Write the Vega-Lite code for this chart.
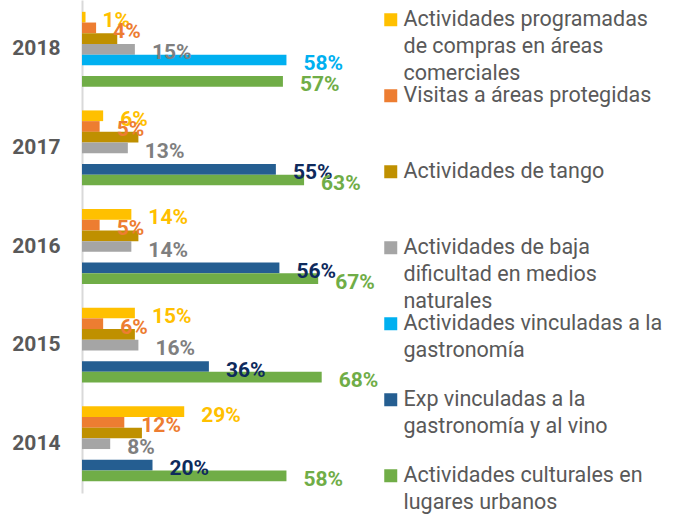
{
  "$schema": "https://vega.github.io/schema/vega-lite/v6.json",
  "width": 282,
  "height": 493,
  "autosize": "none",
  "padding": {"left": 82, "top": 0, "right": 312, "bottom": 22},
  "config": {
    "view": {"stroke": null},
    "font": "Roboto",
    "style": {"guide-label": {"lineHeight": 27}}
  },
  "data": {
    "values": [
      {"year": "2018", "series": "Actividades programadas de compras en áreas comerciales", "value": 0.01},
      {"year": "2018", "series": "Visitas a áreas protegidas", "value": 0.04},
      {"year": "2018", "series": "Actividades de tango", "value": 0.10},
      {"year": "2018", "series": "Actividades de baja dificultad en medios naturales", "value": 0.15},
      {"year": "2018", "series": "Actividades vinculadas a la gastronomía", "value": 0.58},
      {"year": "2018", "series": "Actividades culturales en lugares urbanos", "value": 0.57},
      {"year": "2017", "series": "Actividades programadas de compras en áreas comerciales", "value": 0.06},
      {"year": "2017", "series": "Visitas a áreas protegidas", "value": 0.05},
      {"year": "2017", "series": "Actividades de tango", "value": 0.16},
      {"year": "2017", "series": "Actividades de baja dificultad en medios naturales", "value": 0.13},
      {"year": "2017", "series": "Exp vinculadas a la gastronomía y al vino", "value": 0.55},
      {"year": "2017", "series": "Actividades culturales en lugares urbanos", "value": 0.63},
      {"year": "2016", "series": "Actividades programadas de compras en áreas comerciales", "value": 0.14},
      {"year": "2016", "series": "Visitas a áreas protegidas", "value": 0.05},
      {"year": "2016", "series": "Actividades de tango", "value": 0.16},
      {"year": "2016", "series": "Actividades de baja dificultad en medios naturales", "value": 0.14},
      {"year": "2016", "series": "Exp vinculadas a la gastronomía y al vino", "value": 0.56},
      {"year": "2016", "series": "Actividades culturales en lugares urbanos", "value": 0.67},
      {"year": "2015", "series": "Actividades programadas de compras en áreas comerciales", "value": 0.15},
      {"year": "2015", "series": "Visitas a áreas protegidas", "value": 0.06},
      {"year": "2015", "series": "Actividades de tango", "value": 0.15},
      {"year": "2015", "series": "Actividades de baja dificultad en medios naturales", "value": 0.16},
      {"year": "2015", "series": "Exp vinculadas a la gastronomía y al vino", "value": 0.36},
      {"year": "2015", "series": "Actividades culturales en lugares urbanos", "value": 0.68},
      {"year": "2014", "series": "Actividades programadas de compras en áreas comerciales", "value": 0.29},
      {"year": "2014", "series": "Visitas a áreas protegidas", "value": 0.12},
      {"year": "2014", "series": "Actividades de tango", "value": 0.17},
      {"year": "2014", "series": "Actividades de baja dificultad en medios naturales", "value": 0.08},
      {"year": "2014", "series": "Exp vinculadas a la gastronomía y al vino", "value": 0.20},
      {"year": "2014", "series": "Actividades culturales en lugares urbanos", "value": 0.58}
    ]
  },
  "encoding": {
    "y": {
      "field": "year",
      "type": "nominal",
      "sort": "descending",
      "scale": {"paddingInner": 0.24, "paddingOuter": 0.12},
      "axis": {
        "title": null,
        "ticks": false,
        "domainColor": "#d9d9d9",
        "domainWidth": 2,
        "labelFontSize": 21,
        "labelFontWeight": "bold",
        "labelColor": "#595959",
        "labelPadding": 22
      }
    },
    "yOffset": {
      "field": "series",
      "type": "nominal",
      "scale": {
        "domain": [
          "Actividades programadas de compras en áreas comerciales",
          "Visitas a áreas protegidas",
          "Actividades de tango",
          "Actividades de baja dificultad en medios naturales",
          "Actividades vinculadas a la gastronomía",
          "Exp vinculadas a la gastronomía y al vino",
          "Actividades culturales en lugares urbanos"
        ],
        "paddingInner": 0,
        "paddingOuter": 0
      }
    },
    "x": {
      "field": "value",
      "type": "quantitative",
      "scale": {"domain": [0, 0.8]},
      "axis": null
    }
  },
  "layer": [
    {
      "mark": {"type": "bar"},
      "encoding": {
        "color": {
          "field": "series",
          "type": "nominal",
          "scale": {
            "domain": [
              "Actividades programadas de compras en áreas comerciales",
              "Visitas a áreas protegidas",
              "Actividades de tango",
              "Actividades de baja dificultad en medios naturales",
              "Actividades vinculadas a la gastronomía",
              "Exp vinculadas a la gastronomía y al vino",
              "Actividades culturales en lugares urbanos"
            ],
            "range": ["#FFC000", "#ED7D31", "#BF9000", "#A5A5A5", "#00B0F0", "#255E91", "#70AD47"]
          },
          "legend": {
            "title": null,
            "orient": "none",
            "legendX": 298,
            "legendY": 9,
            "padding": 0,
            "symbolType": "square",
            "symbolSize": 169,
            "symbolStrokeWidth": 0,
            "labelFontSize": 21.5,
            "labelColor": "#595959",
            "labelLimit": 400,
            "labelOffset": 2,
            "rowPadding": -3,
            "labelExpr": "{'Actividades programadas de compras en áreas comerciales': ['Actividades programadas', 'de compras en áreas', 'comerciales'], 'Visitas a áreas protegidas': ['Visitas a áreas protegidas', '', ''], 'Actividades de tango': ['Actividades de tango', '', ''], 'Actividades de baja dificultad en medios naturales': ['Actividades de baja', 'dificultad en medios', 'naturales'], 'Actividades vinculadas a la gastronomía': ['Actividades vinculadas a la', 'gastronomía', ''], 'Exp vinculadas a la gastronomía y al vino': ['Exp vinculadas a la', 'gastronomía y al vino', ''], 'Actividades culturales en lugares urbanos': ['Actividades culturales en', 'lugares urbanos', '']}[datum.label]"
          }
        }
      }
    },
    {
      "transform": [{"filter": "datum.series != 'Actividades de tango'"}],
      "mark": {
        "type": "text",
        "align": "left",
        "baseline": "middle",
        "dx": 17,
        "dy": 4,
        "fontSize": 21,
        "fontWeight": "bold"
      },
      "encoding": {
        "text": {"field": "value", "type": "quantitative", "format": ".0%"},
        "color": {
          "field": "series",
          "type": "nominal",
          "scale": {
            "domain": [
              "Actividades programadas de compras en áreas comerciales",
              "Visitas a áreas protegidas",
              "Actividades de tango",
              "Actividades de baja dificultad en medios naturales",
              "Actividades vinculadas a la gastronomía",
              "Exp vinculadas a la gastronomía y al vino",
              "Actividades culturales en lugares urbanos"
            ],
            "range": ["#FFC000", "#ED7D31", "#BF9000", "#7F7F7F", "#00B0F0", "#0E2A5C", "#70AD47"]
          },
          "legend": null
        }
      }
    }
  ],
  "resolve": {"scale": {"color": "independent"}}
}
